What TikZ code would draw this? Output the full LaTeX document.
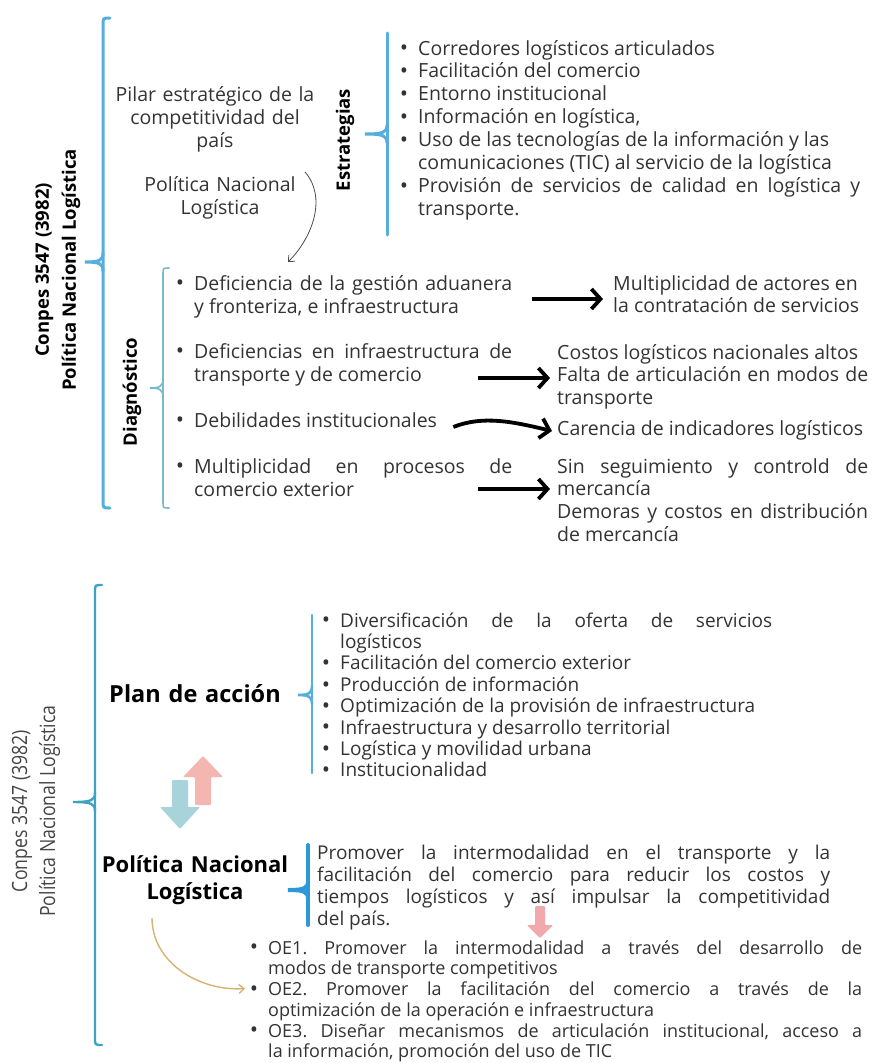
\documentclass[tikz,border=0pt]{standalone}
\usepackage{fontspec}
\setmainfont{Open Sans}
\newfontfamily\narrowfont[FakeStretch=0.84]{Open Sans}
\usepackage{tikz}
\usetikzlibrary{arrows.meta}
\frenchspacing

\definecolor{textgray}{HTML}{333333}
\definecolor{labelgray}{HTML}{454545}
\definecolor{braceblue}{HTML}{55AEDB}
\definecolor{braceteal}{HTML}{7BBACB}
\definecolor{bracelowc}{HTML}{3DA2C4}
\definecolor{bracedark}{HTML}{2C98D8}
\definecolor{arrowpink}{HTML}{F3B6B1}
\definecolor{arrowteal}{HTML}{A8D3DA}
\definecolor{smallpink}{HTML}{F2A9AE}
\definecolor{arrowgold}{HTML}{D6B46E}

\newcommand{\tam}[2]{\fontsize{#1}{#2}\selectfont}
\newcommand{\bul}{\leavevmode\llap{\smash{\raisebox{-0.8pt}{\tam{22}{0}\textbullet}}\hspace{10pt}}}
% brace: style, x, top, tip, bottom, tip length, hook
\newcommand{\llave}[7]{%
	\draw[#1, line cap=round] (#2+#7,#3) .. controls (#2,#3) .. (#2,#3+#7) -- (#2,#5-#7) .. controls (#2,#5) .. (#2+#7,#5);
	\draw[#1, line cap=round] (#2,#4-9) .. controls (#2,#4-2) and (#2-3,#4) .. (#2-#6,#4) .. controls (#2-3,#4) and (#2,#4+2) .. (#2,#4+9);
}

\tikzset{%
	bodytext/.style={
		anchor=base west,
		inner sep=0pt,
		align=justify,
		text=textgray,
		text width=#1
	},
	centertext/.style={
		anchor=base,
		inner sep=0pt,
		align=center,
		text=textgray,
		text width=#1,
		font=\tam{19.5}{23}
	},
	heading/.style={
		anchor=base,
		inner sep=0pt,
		align=center,
		text width=240pt,
		font=\tam{22}{27}\bfseries
	},
	sidelabel/.style={ rotate=90, inner sep=0pt, align=center, font=\tam{18.5}{27}\bfseries },
	sidelabel-light/.style={ rotate=90, inner sep=0pt, align=center, text=labelgray, font=\narrowfont\tam{21}{28} },
	bracebig/.style={ draw=braceblue, line width=3pt },
	bracemid/.style={ draw=braceblue, line width=3pt },
	bracethin/.style={ draw=braceteal, line width=1.6pt },
	bracelow/.style={ draw=bracelowc, line width=2.4pt },
	braceplan/.style={ draw=braceblue, line width=2.6pt },
	bracepnl/.style={ draw=bracedark, line width=4pt },
	bigarrow/.style={ line width=3.8pt, -{Straight Barb[length=9pt,width=20pt]} },
	thinarrow/.style={ draw=black!70, line width=0.8pt, -{Straight Barb[length=5pt,width=9pt]} },
	goldarrow/.style={ draw=arrowgold, line width=1.4pt, -{Straight Barb[length=5pt,width=9pt]} },
}

\begin{document}
\begin{tikzpicture}[x=1pt, y=-1pt]
\useasboundingbox (0,0) rectangle (871,1063);
\fill[white] (0,0) rectangle (871,1063);

% upper scheme
\node[sidelabel] (conpes-top) at (58,270) {Conpes 3547 (3982)\\Política Nacional Logística};
\llave{bracebig}{103}{18}{262}{508}{18}{7}

\node[centertext=230pt] (pilar) at (215,101) {Pilar estratégico de la\\competitividad del\\país};
\node[centertext=230pt] (pnl-top) at (220,191) {Política Nacional\\Logística};

% strategies
\node[sidelabel] (estr-label) at (345,140) {Estrategias};
\llave{bracemid}{387}{33}{134}{235}{22}{0}
\node[bodytext=442pt, font=\tam{19.5}{22.9}] (estr) at (418,55) {%
\bul Corredores logísticos articulados\par
\bul Facilitación del comercio\par
\bul Entorno institucional\par
\bul Información en logística,\par
\bul Uso de las tecnologías de la información y las\newline comunicaciones (TIC) al servicio de la logística\par
\bul Provisión de servicios de calidad en logística y\linebreak transporte.};

% diagnosis
\node[sidelabel] (diag-label) at (132,392) {Diagnóstico};
\llave{bracethin}{163}{268}{388}{508}{13}{6}
\foreach \y/\t [count=\i] in {290/{Deficiencia de la gestión aduanera\linebreak y fronteriza, e infraestructura},
		358/{Deficiencias en infraestructura de\linebreak transporte y de comercio},
		427/{Debilidades institucionales},
		473/{Multiplicidad en procesos de\linebreak comercio exterior}}
	\node[bodytext=318pt, font=\tam{19.5}{23}] (diag-\i) at (194,\y) {\bul\t};

\foreach \x/\y/\t [count=\i] in {613/290/{Multiplicidad de actores en\newline la contratación de servicios},
		557/359/{Costos logísticos nacionales altos\newline Falta de articulación en modos de\linebreak transporte},
		557/435/{Carencia de indicadores logísticos},
		557/473/{Sin seguimiento y controld de\linebreak mercancía\newline Demoras y costos en distribución\linebreak de mercancía}}
	\node[bodytext=311pt, font=\tam{19.5}{22.8}] (res-\i) at (\x,\y) {\t};

% arrows
\draw[bigarrow] ([xshift=20pt,yshift=-9pt]diag-1.base east) -- ([xshift=-10pt,yshift=-9pt]res-1.base west);
\draw[bigarrow] ([xshift=-34pt,yshift=-20pt]diag-2.base east) -- ([xshift=-7pt,yshift=-19pt]res-2.base west);
\draw[bigarrow] ([xshift=-59pt]diag-3.base east) .. controls +(30pt,12pt) and +(-38pt,9pt) .. ([xshift=-5pt,yshift=4pt]res-3.base west);
\draw[bigarrow] ([xshift=-34pt,yshift=-16pt]diag-4.base east) -- ([xshift=-7pt,yshift=-16pt]res-4.base west);
\draw[thinarrow] ([xshift=85pt,yshift=19pt]pnl-top.base) .. controls +(22pt,-25pt) and +(25pt,25pt) .. ([xshift=94pt,yshift=28pt]diag-1.base west);

% lower scheme
\node[sidelabel-light] (conpes-bot) at (36,811) {Conpes 3547 (3982)\\Política Nacional Logística};
\llave{bracelow}{95}{585}{802}{1045}{22}{7}

\node[heading, font=\tam{23.5}{27}\bfseries] (plan) at (195,702) {Plan de acción};
\llave{braceplan}{312}{615}{695}{773}{14}{0}
\node[bodytext=432pt, font=\tam{19}{21.4}] (plan-list) at (340,627) {%
\bul Diversificación de la oferta de servicios\linebreak logísticos\par
\bul Facilitación del comercio exterior\par
\bul Producción de información\par
\bul Optimización de la provisión de infraestructura\par
\bul Infraestructura y desarrollo territorial\par
\bul Logística y movilidad urbana\par
\bul Institucionalidad};

% up and down arrows
\fill[arrowpink, rounded corners=1pt] (195,805) -- (195,777) -- (183,777) -- (203,756) -- (223,777) -- (211,777) -- (211,805) -- cycle;
\fill[arrowteal, rounded corners=1pt] (172,780) -- (188,780) -- (188,807) -- (200,807) -- (180,829) -- (160,807) -- (172,807) -- cycle;

\node[heading] (pnl-bot) at (195,872) {Política Nacional\\Logística};
\llave{bracepnl}{308}{845}{890}{925}{20}{0}
\node[bodytext=513pt, font=\tam{19}{22}] (pnl-text) at (317,859) {Promover la intermodalidad en el transporte y la\linebreak facilitación del comercio para reducir los costos y\linebreak tiempos logísticos y así impulsar la competitividad\linebreak del país.};
\fill[smallpink, rounded corners=1pt] (535,906) -- (545,906) -- (545,925) -- (553,925) -- (540,938) -- (527,925) -- (535,925) -- cycle;

\foreach \y/\t [count=\i] in {954/{OE1. Promover la intermodalidad a través del desarrollo de\linebreak modos de transporte competitivos},
		995.5/{OE2. Promover la facilitación del comercio a través de la\linebreak optimización de la operación e infraestructura},
		1037/{OE3. Diseñar mecanismos de articulación institucional, acceso a\linebreak la información, promoción del uso de TIC}}
	\node[bodytext=594pt, font=\tam{18}{20.7}] (oe-\i) at (268,\y) {\bul\t};

\draw[goldarrow] ([xshift=-43pt,yshift=-46pt]pnl-bot.base) .. controls +(0pt,-45pt) and +(-45pt,-3pt) .. ([xshift=-23pt,yshift=7pt]oe-2.base west);

\end{tikzpicture}
\end{document}
